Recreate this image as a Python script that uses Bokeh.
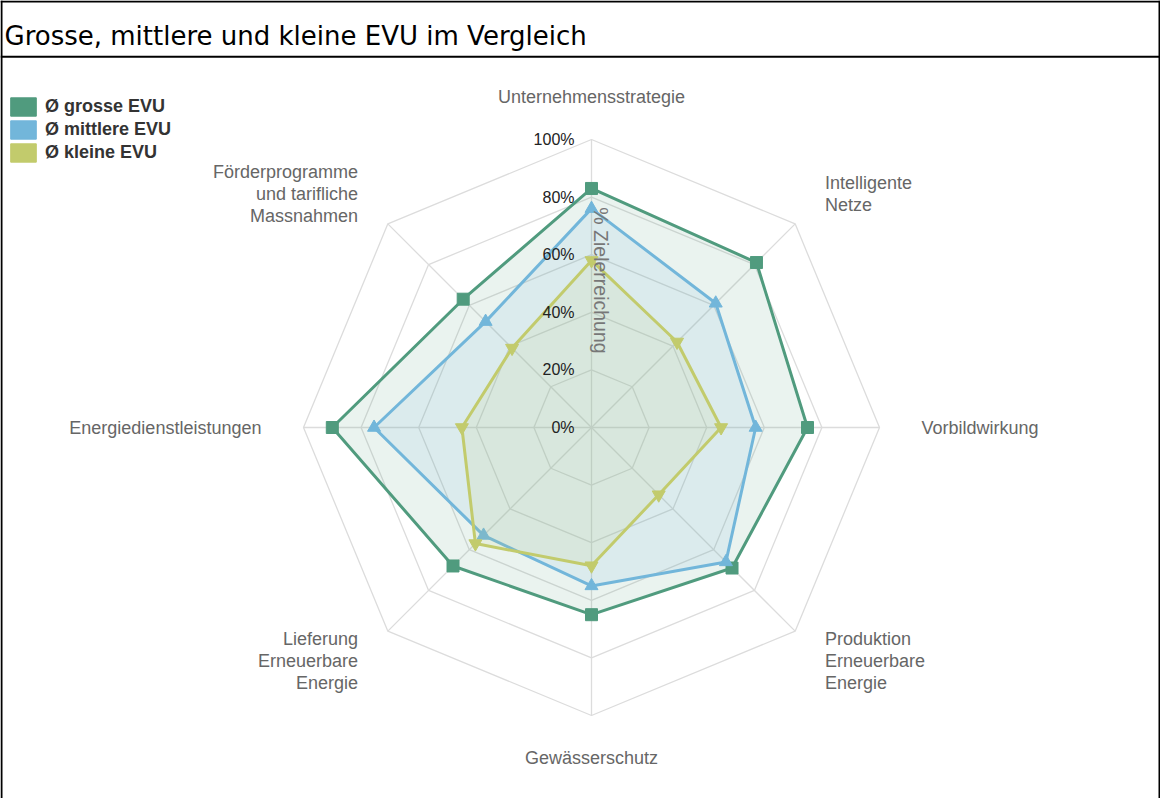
import numpy as np
from bokeh.plotting import figure
from bokeh.models import Range1d, Legend, LegendItem
from bokeh.core.properties import value
from bokeh.embed import file_html
from bokeh.resources import INLINE

# ---------------- data ----------------
title = "Grosse, mittlere und kleine EVU im Vergleich"
categories = [
    "Unternehmensstrategie",
    "Intelligente\nNetze",
    "Vorbildwirkung",
    "Produktion\nErneuerbare\nEnergie",
    "Gewässerschutz",
    "Lieferung\nErneuerbare\nEnergie",
    "Energiedienstleistungen",
    "Förderprogramme\nund tarifliche\nMassnahmen",
]
series_names = ["Ø grosse EVU", "Ø mittlere EVU", "Ø kleine EVU"]
grosse = [83, 81, 75, 69, 65, 68, 90, 63]
mittlere = [76, 61, 57, 66, 55, 53, 75.5, 52]
kleine = [58, 42, 45, 33, 48, 57, 45, 39]
tick_values = [0, 20, 40, 60, 80, 100]
tick_labels = ["0%", "20%", "40%", "60%", "80%", "100%"]
axis_title = "% Zielerreichung"

colors = ["#509B7E", "#72B6DA", "#C2CB6C"]
markers = ["square", "triangle", "inverted_triangle"]

# ---------------- layout ----------------
W, H = 1160, 798
CX, CY = 591, 427      # radar centre in frame pixels
K = 2.88               # pixels per percent


def dx(px):
    return (px - CX) / K


def dy(py):
    return (CY - py) / K


p = figure(width=W, height=H,
           x_range=Range1d(dx(0), dx(W)), y_range=Range1d(dy(H), dy(0)),
           output_backend="svg", toolbar_location=None,
           x_axis_type=None, y_axis_type=None, min_border=0,
           outline_line_color=None, background_fill_color="white",
           border_fill_color="white")

# frame + title bar
p.segment(x0=[dx(0), dx(0), dx(1), dx(W - 1)],
          y0=[dy(1), dy(56.3), dy(0), dy(0)],
          x1=[dx(W), dx(W), dx(1), dx(W - 1)],
          y1=[dy(1), dy(56.3), dy(H), dy(H)],
          line_color="black", line_width=2)
p.text(x=[dx(4)], y=[dy(35)], text=[title], text_font=value("DejaVu Sans"),
       text_font_size="26px", text_color="#000000", text_baseline="middle")

n = len(categories)
ang = np.pi / 2 - np.arange(n) * 2 * np.pi / n
ca, sa = np.cos(ang), np.sin(ang)
ca_c, sa_c = np.append(ca, ca[0]), np.append(sa, sa[0])

# grid rings & spokes
ring_xs = [list(t * ca_c) for t in tick_values[1:]]
ring_ys = [list(t * sa_c) for t in tick_values[1:]]
p.multi_line(xs=ring_xs, ys=ring_ys, line_color="#dcdcdc", line_width=1.3)
p.segment(x0=[0] * n, y0=[0] * n, x1=list(100 * ca), y1=list(100 * sa),
          line_color="#dcdcdc", line_width=1.3)

# series
legend_items = []
for name, vals, col, mk in zip(series_names, [grosse, mittlere, kleine], colors, markers):
    v = np.array(vals, dtype=float)
    xs, ys = v * ca, v * sa
    p.patch(list(xs), list(ys), fill_color=col, fill_alpha=0.12, line_color=None)
    p.line(list(np.append(xs, xs[0])), list(np.append(ys, ys[0])),
           line_color=col, line_width=3)
    p.scatter(list(xs), list(ys), marker=mk, size=13 if mk != "square" else 12,
              fill_color=col, line_color=col)
    dummy = p.quad(left=[np.nan], right=[np.nan], top=[np.nan], bottom=[np.nan],
                   fill_color=col, line_color=col, line_width=1)
    legend_items.append(LegendItem(label=name, renderers=[dummy]))

legend = Legend(items=legend_items, location=(7, 634), orientation="vertical",
                glyph_width=32, glyph_height=23, label_height=23, spacing=0,
                padding=0, margin=0, label_standoff=6,
                label_text_font="Liberation Sans", label_text_font_size="18px",
                label_text_font_style="bold", label_text_color="#333333",
                border_line_color=None, background_fill_alpha=0)
p.add_layout(legend)

# tick labels
p.text(x=[0] * len(tick_values), y=tick_values, text=tick_labels, x_offset=-17,
       text_align="right", text_baseline="middle",
       text_font=value("Liberation Sans"), text_font_size="16px", text_color="#222222")

# axis title
p.text(x=[dx(600.5)], y=[dy(280)], text=[axis_title], angle=-np.pi / 2,
       text_align="center", text_baseline="middle",
       text_font=value("Liberation Sans"), text_font_size="19.5px", text_color="#777777")

# category labels
LR = 114.6
groups = {"left": [], "right": [], "center": []}
for i, c in enumerate(categories):
    if ca[i] > 0.1:
        groups["left"].append(i)
    elif ca[i] < -0.1:
        groups["right"].append(i)
    else:
        groups["center"].append(i)
for al, idx in groups.items():
    p.text(x=[LR * ca[i] for i in idx], y=[LR * sa[i] for i in idx],
           text=[categories[i] for i in idx], text_align=al, text_baseline="middle",
           text_font=value("Liberation Sans"), text_font_size="18px",
           text_color="#666666", text_line_height=1.11)

open("out.html", "w").write(file_html(p, INLINE))
